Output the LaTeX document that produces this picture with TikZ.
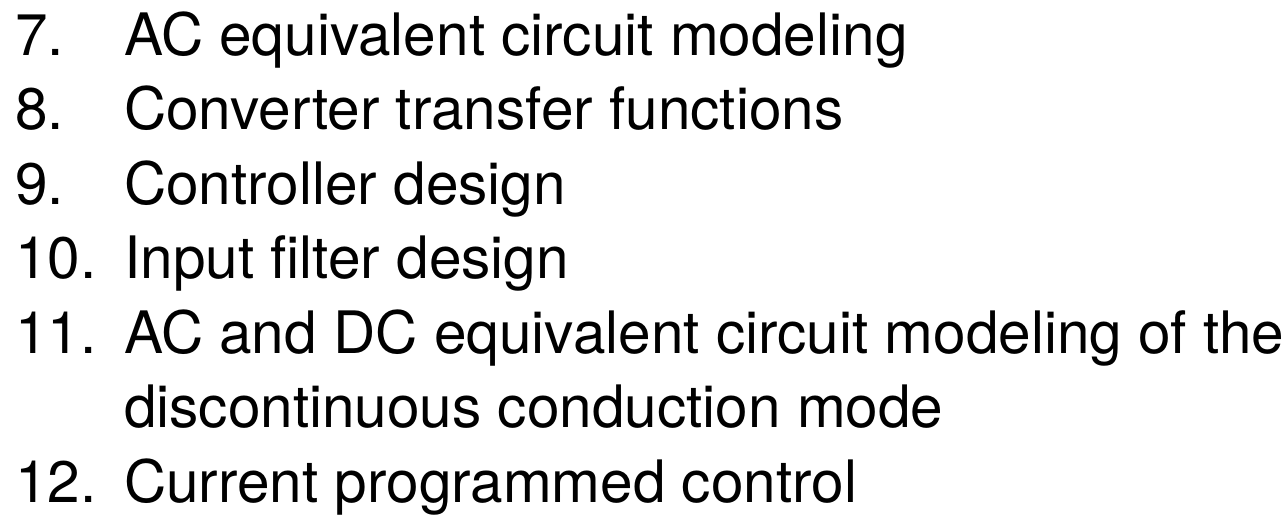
\documentclass[tikz,border=0pt]{standalone}
\usepackage{fontspec}
\setmainfont{TeX Gyre Heros}
\tikzset{
  itemtext/.style={anchor=base west, inner sep=0pt, outer sep=0pt, font=\fontsize{58.5}{70}\selectfont, text=black},
}
\begin{document}
\begin{tikzpicture}[x=1pt,y=-1pt]
\useasboundingbox[fill=white] (0,0) rectangle (1287,531);
\node[itemtext] (n7)  at (15,55)    {7.};
\node[itemtext] (t7)  at (124,55)   {AC equivalent circuit modeling};
\node[itemtext] (n8)  at (15,129.5) {8.};
\node[itemtext] (t8)  at (124,129.5){Converter transfer functions};
\node[itemtext] (n9)  at (15,204)   {9.};
\node[itemtext] (t9)  at (124,204)  {Controller design};
\node[itemtext] (n10) at (15,278.5) {10.};
\node[itemtext] (t10) at (124,278.5){Input filter design};
\node[itemtext] (n11) at (15,353)   {11.};
\node[itemtext] (t11a) at (124,353) {AC and DC equivalent circuit modeling of the};
\node[itemtext] (t11b) at (124,427.5){discontinuous conduction mode};
\node[itemtext] (n12) at (15,502)   {12.};
\node[itemtext] (t12) at (124,502)  {Current programmed control};
\end{tikzpicture}
\end{document}
